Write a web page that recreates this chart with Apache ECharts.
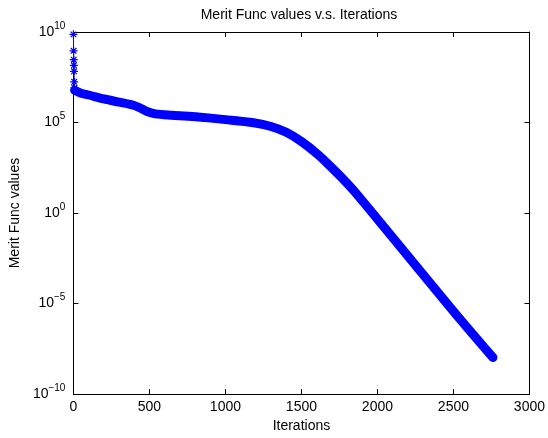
<!DOCTYPE html>
<html>
<head>
<meta charset="utf-8">
<script src="https://cdn.jsdelivr.net/npm/echarts@6/dist/echarts.min.js"></script>
<style>
  html, body { margin: 0; padding: 0; background: #fff; }
  #main { width: 548px; height: 438px; }
</style>
</head>
<body>
<div id="main"></div>
<script>
// first iterations, drawn with '*' markers (iteration, log10 of merit value)
var starIter = [0, 1, 2, 3, 4, 5, 6, 8];
var starExp = [9.87, 8.96, 8.47, 8.16, 7.83, 7.25, 6.92, 6.78];

// rest of the run
var curveIter = [8, 50, 100, 200, 300, 390, 440, 480, 540, 650, 820, 1000, 1185, 1300, 1400, 1500, 1615, 1700, 1776, 1850, 2048, 2495, 2760];
var curveExp = [6.78, 6.62, 6.52, 6.30, 6.13, 5.97, 5.80, 5.62, 5.48, 5.40, 5.30, 5.16, 4.99, 4.78, 4.46, 3.95, 3.19, 2.50, 1.86, 1.18, -0.82, -5.37, -7.98];

var xTicks = [0, 500, 1000, 1500, 2000, 2500, 3000];
var yExpTicks = [-10, -5, 0, 5, 10];

var FONT = "'Liberation Sans', Arial, Helvetica, sans-serif";
var BLUE = '#0000ff';

function toPairs(xs, es) {
  return xs.map(function (x, i) { return [x, Math.pow(10, es[i])]; });
}

var chart = echarts.init(document.getElementById('main'), null, { renderer: 'canvas' });

var boxLine = { show: true, onZero: false, lineStyle: { color: '#000', width: 1 } };
var inTick = { show: true, inside: true, length: 5, lineStyle: { color: '#000', width: 1 } };

function expLabel(v) {
  var e = Math.round(Math.log(v) / Math.LN10);
  return '{b|10}{e|' + String(e).replace('-', '\u2212') + '}';
}

var option = {
  animation: false,
  backgroundColor: '#fff',
  textStyle: { fontFamily: FONT },
  title: {
    text: 'Merit Func values v.s. Iterations',
    left: 299,
    top: 8,
    textAlign: 'center',
    padding: 0,
    textStyle: { fontFamily: FONT, fontSize: 14, fontWeight: 'normal', color: '#000' }
  },
  grid: { left: 66, right: 16, top: 32, bottom: 39.5 },
  xAxis: [{
    type: 'value',
    min: xTicks[0],
    max: xTicks[xTicks.length - 1],
    interval: 500,
    position: 'bottom',
    axisLine: boxLine,
    axisTick: inTick,
    splitLine: { show: false },
    axisLabel: {
      color: '#000', fontSize: 14, margin: 6, fontFamily: FONT,
      formatter: function (v) { return String(v); }
    },
    name: 'Iterations',
    nameLocation: 'middle',
    nameGap: 22,
    nameTextStyle: { color: '#000', fontSize: 14, fontFamily: FONT }
  }, {
    type: 'value',
    min: xTicks[0],
    max: xTicks[xTicks.length - 1],
    interval: 500,
    position: 'top',
    axisLine: boxLine,
    axisTick: inTick,
    splitLine: { show: false },
    axisLabel: { show: false }
  }],
  yAxis: [{
    type: 'log',
    logBase: 10,
    min: Math.pow(10, yExpTicks[0]),
    max: Math.pow(10, yExpTicks[yExpTicks.length - 1]),
    interval: 5,
    position: 'left',
    axisLine: boxLine,
    axisTick: inTick,
    splitLine: { show: false },
    minorTick: { show: false },
    axisLabel: {
      margin: 8,
      formatter: expLabel,
      rich: {
        b: { fontSize: 14, color: '#000', fontFamily: FONT },
        e: { fontSize: 10, color: '#000', fontFamily: FONT, padding: [0, 0, 12, 0] }
      }
    },
    name: 'Merit Func values',
    nameLocation: 'middle',
    nameGap: 41,
    nameTextStyle: { color: '#000', fontSize: 14, fontFamily: FONT }
  }, {
    type: 'log',
    logBase: 10,
    min: Math.pow(10, yExpTicks[0]),
    max: Math.pow(10, yExpTicks[yExpTicks.length - 1]),
    interval: 5,
    position: 'right',
    axisLine: boxLine,
    axisTick: inTick,
    splitLine: { show: false },
    axisLabel: { show: false }
  }],
  series: [
    {
      type: 'line',
      name: 'band',
      data: toPairs(curveIter, curveExp),
      showSymbol: false,
      smooth: 0.3,
      lineStyle: { color: BLUE, width: 9, cap: 'round', join: 'round' },
      z: 2
    },
    {
      type: 'line',
      name: 'start',
      data: toPairs(starIter, starExp),
      clip: false,
      symbol: 'path://M5,0L5,10M0,5L10,5M1.5,1.5L8.5,8.5M1.5,8.5L8.5,1.5',
      symbolSize: 8,
      showAllSymbol: true,
      itemStyle: { color: 'none', borderColor: BLUE, borderWidth: 1.2 },
      lineStyle: { color: BLUE, width: 1 },
      z: 3
    }
  ]
};

chart.setOption(option);
</script>
</body>
</html>
